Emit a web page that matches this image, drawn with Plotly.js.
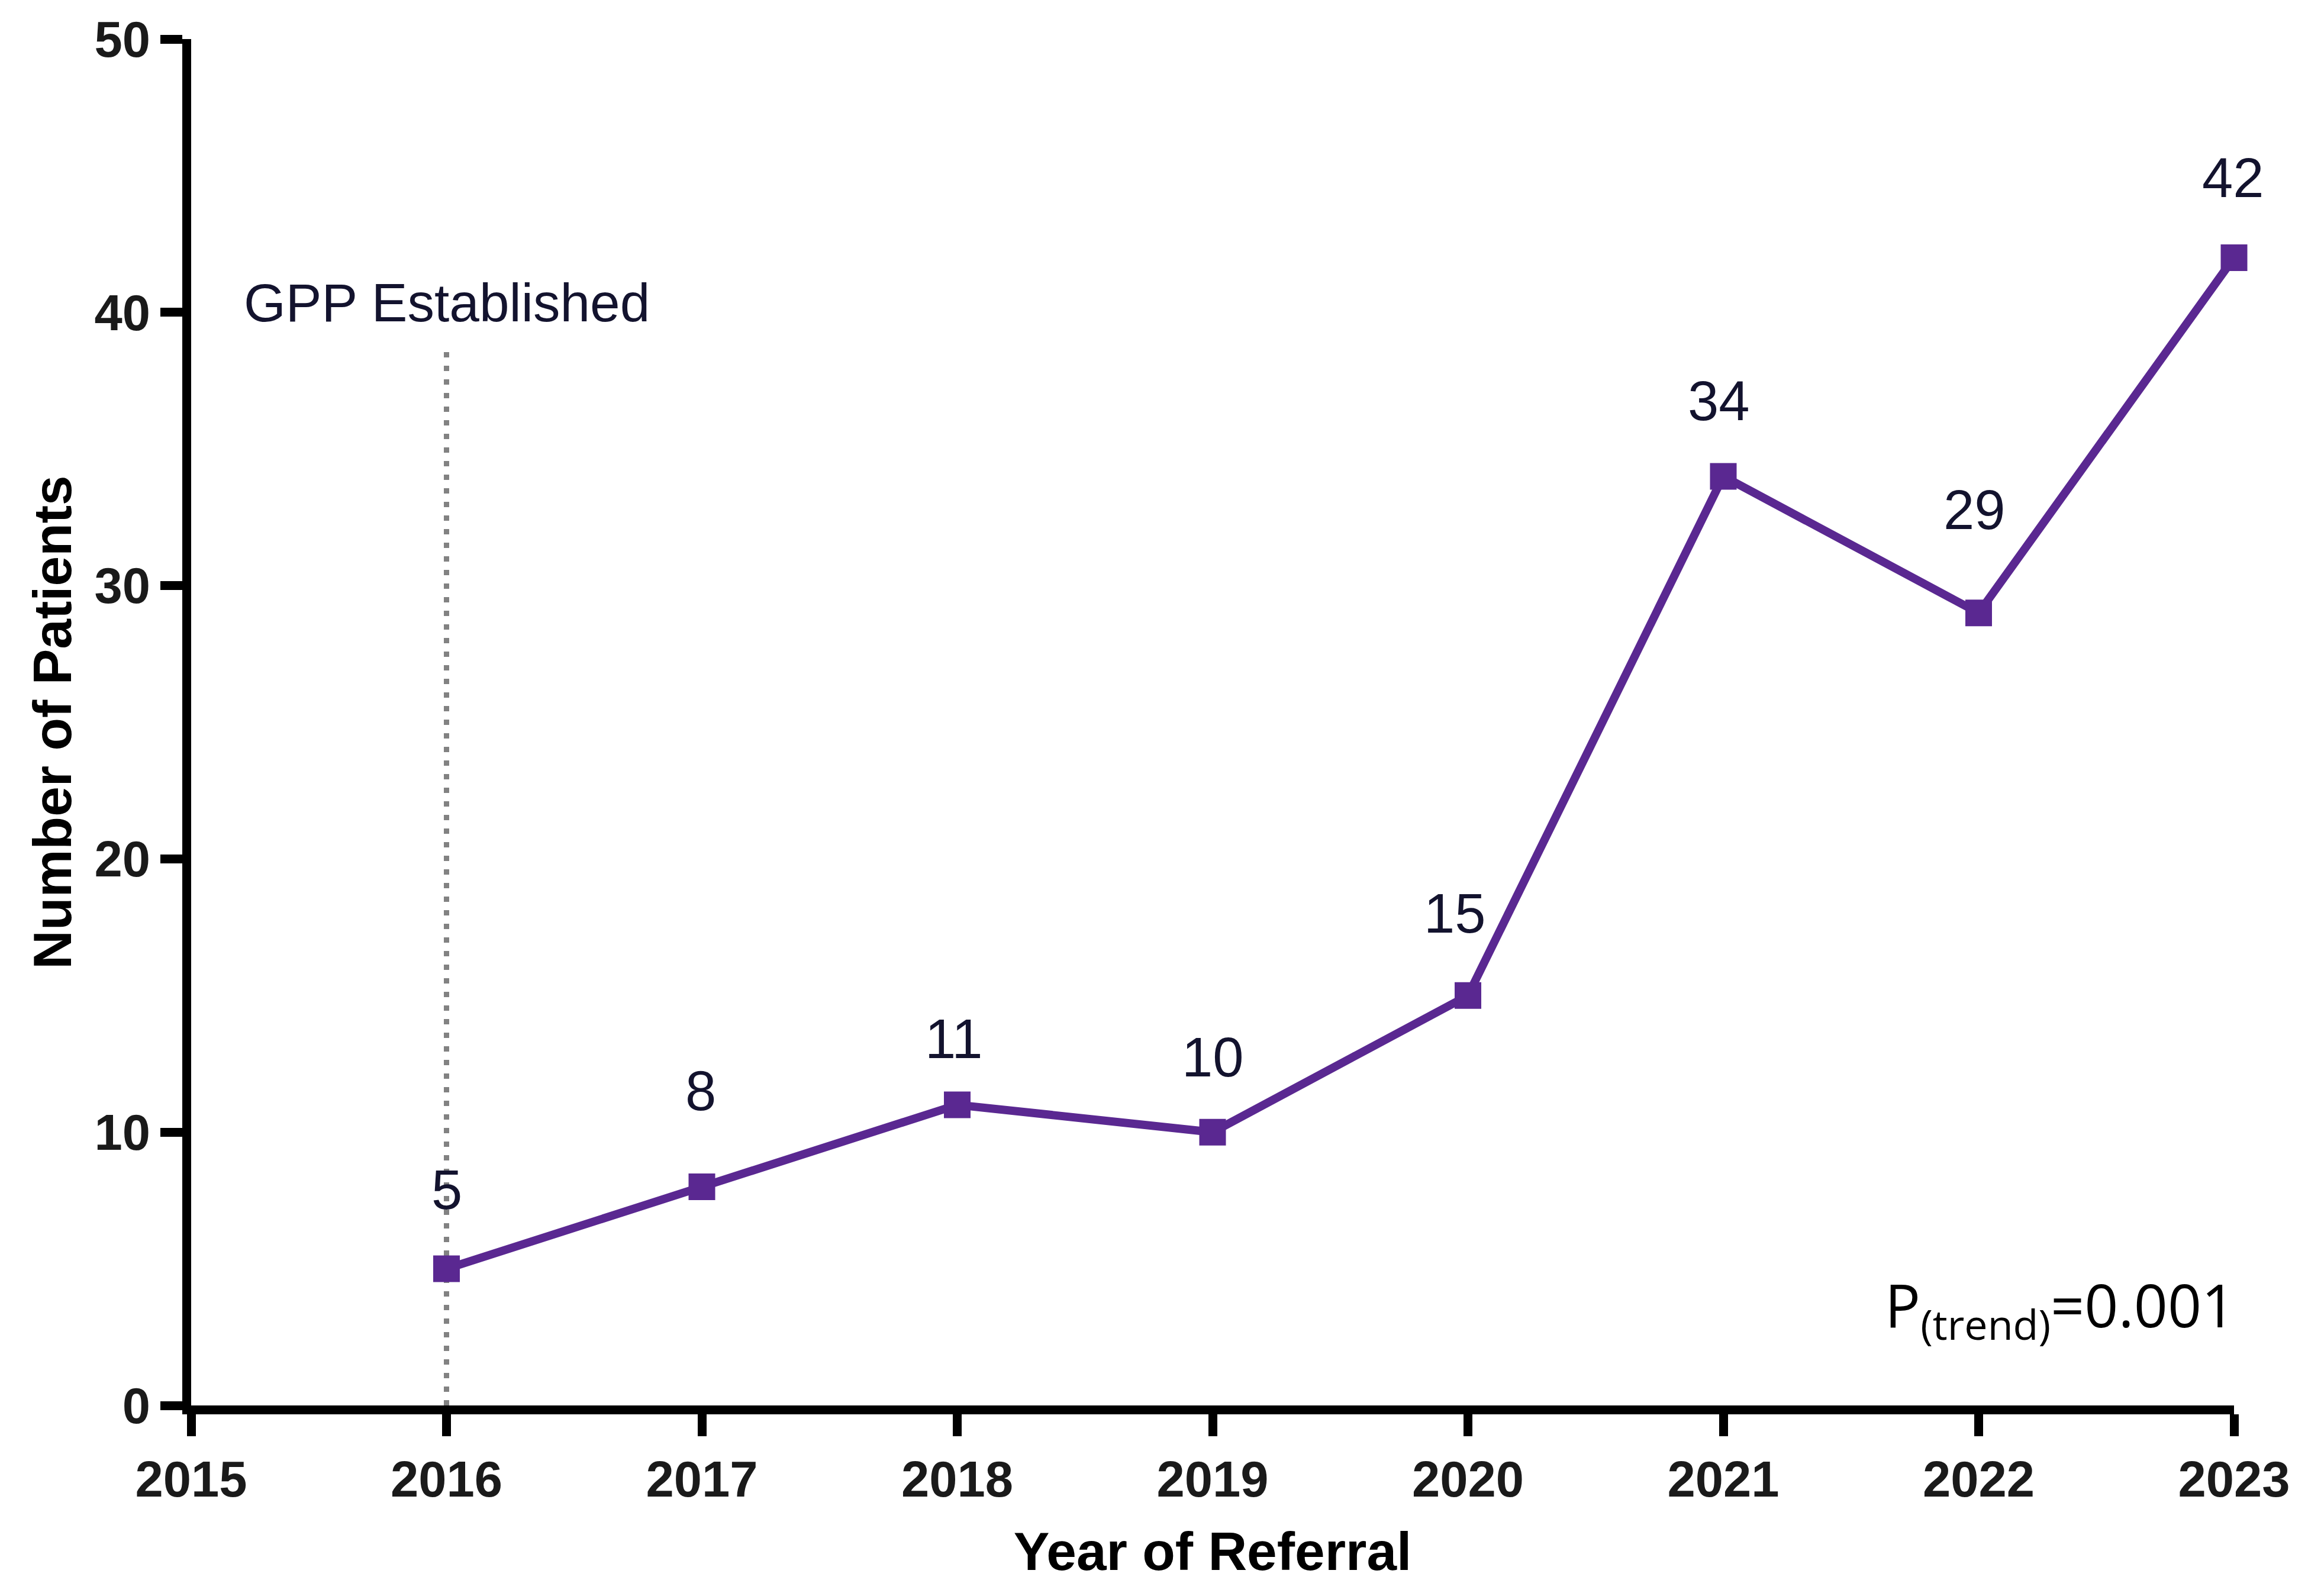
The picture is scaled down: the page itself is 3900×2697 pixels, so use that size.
<!DOCTYPE html>
<html>
<head>
<meta charset="utf-8">
<script src="https://cdn.plot.ly/plotly-3.0.1.min.js"></script>
<style>
  html, body { margin: 0; padding: 0; background: #ffffff; }
  #chart { width: 3900px; height: 2697px; }
</style>
</head>
<body>
<div id="chart"></div>
<script>
// ---- data ----
const years = [2016, 2017, 2018, 2019, 2020, 2021, 2022, 2023];
const patients = [5, 8, 11, 10, 15, 34, 29, 42];
const xTickVals = [2015, 2016, 2017, 2018, 2019, 2020, 2021, 2022, 2023];
const yTickVals = [0, 10, 20, 30, 40, 50];
const gppYear = 2016;
const gppLineTop = 38.7;
const gppLabel = "GPP Established";
const gppLabelY = 40.35;
const pTrendText = "P<sub>(trend)</sub>=0.001";
const pTrendY = 1.9;

// ---- label placement (styling, pixels) ----
const labelDy = [134, 162, 112, 127, 139, 127, 174, 135];
const labelDx = [0, -2, -6, 0, -22, -8, -7, -2];

const purple = "#5a2891";
const navy = "#13132e";
const sans = "Arial, 'Liberation Sans', Helvetica, sans-serif";

const traces = [
  {
    x: [gppYear, gppYear],
    y: [0, gppLineTop],
    mode: "lines",
    line: { color: "#828282", width: 9, dash: "9px,14px" },
    hoverinfo: "skip",
    showlegend: false
  },
  {
    x: years,
    y: patients,
    mode: "lines+markers",
    line: { color: purple, width: 14 },
    marker: { symbol: "square", size: 45, color: purple },
    cliponaxis: false,
    showlegend: false
  }
];

const annotations = years.map((yr, i) => ({
  x: yr, y: patients[i], xref: "x", yref: "y",
  text: String(patients[i]),
  showarrow: false,
  yshift: labelDy[i],
  xshift: labelDx[i],
  font: { family: sans, size: 94, color: navy },
  xanchor: "center", yanchor: "middle"
}));

annotations.push({
  x: gppYear, y: gppLabelY, xref: "x", yref: "y",
  text: gppLabel, showarrow: false,
  font: { family: sans, size: 91, color: navy },
  xanchor: "center", yanchor: "middle"
});

annotations.push({
  x: 2023, y: pTrendY, xref: "x", yref: "y",
  text: pTrendText, showarrow: false,
  xshift: 4,
  font: { family: "'Open Sans', sans-serif", size: 100, color: "#000000" },
  xanchor: "right", yanchor: "bottom"
});

const layout = {
  width: 3900,
  height: 2697,
  paper_bgcolor: "#ffffff",
  plot_bgcolor: "#ffffff",
  margin: { l: 323, r: 125, t: 66, b: 322 },
  showlegend: false,
  xaxis: {
    range: [2015, 2023],
    tickmode: "array",
    tickvals: xTickVals,
    ticktext: xTickVals.map(String),
    showgrid: false,
    zeroline: false,
    showline: true,
    linecolor: "#000000",
    linewidth: 15,
    ticks: "outside",
    ticklen: 37,
    tickwidth: 15,
    tickcolor: "#000000",
    tickfont: { family: sans, size: 85, color: "#1a1a1a", weight: "bold" },
    title: {
      text: "<b>Year of Referral</b>",
      font: { family: sans, size: 91, color: "#000000" },
      standoff: 50
    }
  },
  yaxis: {
    range: [0, 50],
    tickmode: "array",
    tickvals: yTickVals,
    ticktext: yTickVals.map(String),
    showgrid: false,
    zeroline: false,
    showline: true,
    linecolor: "#000000",
    linewidth: 15,
    ticks: "outside",
    ticklen: 37,
    tickwidth: 15,
    tickcolor: "#000000",
    tickfont: { family: sans, size: 85, color: "#1a1a1a", weight: "bold" },
    title: {
      text: "<b>Number of Patients</b>",
      font: { family: sans, size: 91, color: "#000000" },
      standoff: 15
    }
  },
  annotations: annotations
};

Plotly.newPlot("chart", traces, layout, { displayModeBar: false, staticPlot: true });
</script>
</body>
</html>
